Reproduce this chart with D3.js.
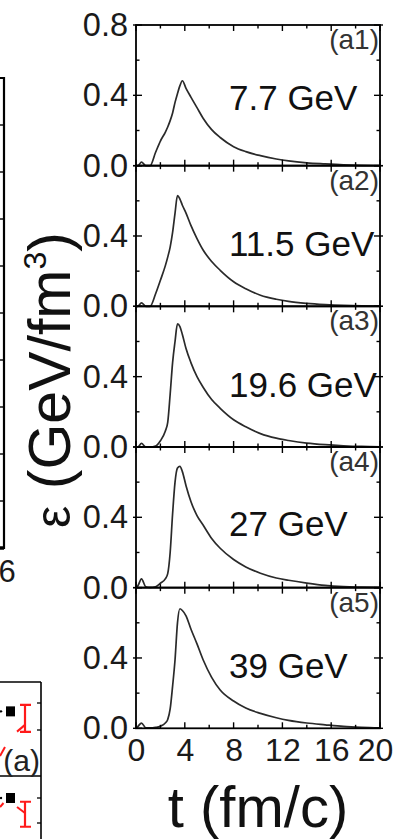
<!DOCTYPE html>
<html>
<head>
<meta charset="utf-8">
<script src="https://cdn.jsdelivr.net/npm/d3@7"></script>
<style>
  html, body { margin: 0; padding: 0; background: #fff; }
  svg { display: block; }
  text { font-family: "Liberation Sans", Arial, Helvetica, sans-serif; }
</style>
</head>
<body>
<svg id="chart" width="400" height="839"></svg>
<script>
// ---- data ----------------------------------------------------------------
const energies = ["7.7 GeV", "11.5 GeV", "19.6 GeV", "27 GeV", "39 GeV"];
const panelTags = ["(a1)", "(a2)", "(a3)", "(a4)", "(a5)"];

// time grid, fm/c
const times = [0, 0.15, 0.45, 0.8, 1.15, 1.6, 2.0, 2.4, 2.6, 2.8, 3.0, 3.2, 3.4, 3.6, 3.8,
               4.1, 4.5, 5.0, 5.5, 6.2, 6.9, 8.0, 9.0, 10.2, 11.5, 12.5, 14.0, 15.5, 17.0, 18.5, 20.0];

// energy density, GeV/fm^3
const eps7p7 = [0, 0, 0.02, 0, 0, 0.075, 0.14, 0.19, 0.22, 0.256, 0.30, 0.36, 0.41, 0.455, 0.483,
                0.44, 0.39, 0.33, 0.27, 0.205, 0.16, 0.108, 0.08, 0.057, 0.038, 0.027, 0.016, 0.01, 0.005, 0.002, 0.001];
const eps11p5 = [0, 0, 0.02, 0, 0, 0.07, 0.148, 0.23, 0.28, 0.337, 0.42, 0.53, 0.63, 0.61, 0.575,
                 0.53, 0.46, 0.385, 0.32, 0.255, 0.205, 0.14, 0.10, 0.063, 0.04, 0.028, 0.017, 0.01, 0.005, 0.002, 0.001];
const eps19p6 = [0, 0, 0.02, 0, 0, 0.005, 0.035, 0.09, 0.14, 0.30, 0.48, 0.60, 0.70, 0.685, 0.64,
                 0.56, 0.48, 0.40, 0.34, 0.27, 0.22, 0.155, 0.115, 0.076, 0.05, 0.037, 0.022, 0.013, 0.007, 0.003, 0.001];
const eps27 = [0, 0.01, 0.05, 0.005, 0.002, 0.005, 0.025, 0.05, 0.08, 0.20, 0.42, 0.60, 0.68, 0.69, 0.66,
               0.58, 0.49, 0.41, 0.356, 0.28, 0.224, 0.16, 0.118, 0.082, 0.055, 0.042, 0.026, 0.013, 0.006, 0.003, 0.001];
const eps39 = [0, 0.01, 0.03, 0.003, 0.002, 0.005, 0.012, 0.03, 0.05, 0.11, 0.24, 0.39, 0.60, 0.68, 0.67,
               0.64, 0.565, 0.48, 0.39, 0.29, 0.218, 0.155, 0.115, 0.085, 0.06, 0.045, 0.03, 0.02, 0.011, 0.006, 0.003];
const series = [eps7p7, eps11p5, eps19p6, eps27, eps39];

const xMajorTicks = [0, 4, 8, 12, 16, 20];
const xMinorTicks = [2, 6, 10, 14, 18];
const yMajorTicks = [0, 0.4, 0.8];
const yMinorTicks = [0.2, 0.6];

// cropped neighbouring panels on the left
const leftFrameTicks = [1, 2, 3, 4, 5, 6, 7, 8, 9];
const leftFrameEndLabel = "6";
const fragTicks = [1, 2];
const fragMarkers = [1.69, 2.0];          // black squares, one per sub-panel
const fragErrLow = [0.93, 0.85];
const fragErrHigh = [1.93, 1.85];
const fragModelA = [[4.0, 0.94], [6.0, 1.19]];
const fragModelB = [[4.0, 1.64], [6.0, 1.40]];

// ---- layout --------------------------------------------------------------
const svg = d3.select("#chart");
const plotLeft = 136, plotRight = 380, plotTop = 25, plotBottom = 728.3;
const nP = series.length;
const ph = (plotBottom - plotTop) / nP;
const labelDrop = [85, 90, 91, 89, 90];   // baseline of the energy label below each panel top

const x = d3.scaleLinear().domain([0, 20]).range([plotLeft, plotRight]);
const line = d3.line().x((d, i) => x(times[i])).y(d => d).curve(d3.curveMonotoneX);

series.forEach((vals, p) => {
  const y0 = plotTop + p * ph;
  const y = d3.scaleLinear().domain([0, 0.8]).range([y0 + ph, y0]);
  const g = svg.append("g");

  // curve
  g.append("path")
    .attr("d", line(vals.map(v => y(v))))
    .attr("fill", "none")
    .attr("stroke", "#2a2a2a")
    .attr("stroke-width", 1.7);

  // inward ticks on all four sides
  const tk = (x1, y1, x2, y2, w) => g.append("line")
    .attr("x1", x1).attr("y1", y1).attr("x2", x2).attr("y2", y2)
    .attr("stroke", "#000").attr("stroke-width", w || 1.4);
  xMajorTicks.forEach(t => { tk(x(t), y0, x(t), y0 + 6); tk(x(t), y0 + ph, x(t), y0 + ph - 6); });
  xMinorTicks.forEach(t => { tk(x(t), y0, x(t), y0 + 3.5); tk(x(t), y0 + ph, x(t), y0 + ph - 3.5); });
  yMajorTicks.forEach(v => { tk(plotLeft - 3, y(v), plotLeft + 6, y(v)); tk(plotRight + 3, y(v), plotRight - 6, y(v)); });
  yMinorTicks.forEach(v => { tk(plotLeft, y(v), plotLeft + 3.5, y(v)); tk(plotRight, y(v), plotRight - 3.5, y(v)); });

  // frame
  g.append("rect")
    .attr("x", plotLeft).attr("y", y0).attr("width", plotRight - plotLeft).attr("height", ph)
    .attr("fill", "none").attr("stroke", "#000").attr("stroke-width", 1.8);

  // y tick labels
  const shown = p === 0 ? yMajorTicks : yMajorTicks.filter(v => v < 0.8);
  const ax = d3.axisLeft(y).tickValues(shown).tickSize(0).tickPadding(8).tickFormat(d3.format(".1f"));
  const axg = svg.append("g").attr("transform", `translate(${plotLeft},0)`).call(ax);
  axg.select(".domain").remove();
  axg.selectAll("text").attr("font-size", 32.5).attr("fill", "#1a1a1a")
    .attr("font-family", "Liberation Sans, Arial, sans-serif");

  // energy label and panel tag
  g.append("text").attr("x", 229).attr("y", y0 + labelDrop[p])
    .attr("font-size", 35).attr("fill", "#111").text(energies[p]);
  g.append("text").attr("x", plotRight - 1).attr("y", y0 + 24).attr("text-anchor", "end")
    .attr("font-size", 28).attr("fill", "#333").text(panelTags[p]);
});

// x axis labels under the last panel
const xa = d3.axisBottom(x).tickValues(xMajorTicks).tickSize(0).tickPadding(10).tickFormat(d3.format("d"));
const xag = svg.append("g").attr("transform", `translate(0,${plotBottom})`).call(xa);
xag.select(".domain").remove();
xag.selectAll("text").attr("font-size", 32).attr("fill", "#1a1a1a")
  .attr("font-family", "Liberation Sans, Arial, sans-serif")
  .attr("dx", d => d === 20 ? -5 : 0);

// axis titles
svg.append("text").attr("x", (plotLeft + plotRight) / 2).attr("y", 827)
  .attr("text-anchor", "middle").attr("font-size", 58).attr("fill", "#111").text("t (fm/c)");

const yt = svg.append("text")
  .attr("transform", "translate(70,380) rotate(-90)")
  .attr("text-anchor", "middle").attr("font-size", 59).attr("fill", "#111");
yt.append("tspan").attr("font-size", 50).text("\u03B5");
yt.append("tspan").text(" (GeV/fm");
yt.append("tspan").attr("font-size", 32).attr("dy", -24).text("3");
yt.append("tspan").attr("dy", 24).text(")");

// ---- cropped neighbouring panels ------------------------------------------
const ly = d3.scaleLinear().domain([0, 10]).range([548, 78]);
svg.append("path")
  .attr("d", `M0,${ly(10)}H4V${ly(0)}H0`)
  .attr("fill", "none").attr("stroke", "#000").attr("stroke-width", 2.2);
svg.append("line").attr("x1", 0).attr("x2", 4).attr("y1", ly(0)).attr("y2", ly(0))
  .attr("stroke", "#000").attr("stroke-width", 3.5);
leftFrameTicks.forEach(v => svg.append("line")
  .attr("x1", 0).attr("x2", 4).attr("y1", ly(v)).attr("y2", ly(v))
  .attr("stroke", "#000").attr("stroke-width", 1.4));
svg.append("text").attr("x", 7).attr("y", 582).attr("text-anchor", "middle")
  .attr("font-size", 31).attr("fill", "#1a1a1a").text(leftFrameEndLabel);

const fx = d3.scaleLinear().domain([0, 10]).range([1, 41]);
const subTop = [682, 776];
const fy = [
  d3.scaleLinear().domain([1, 2]).range([730, 703]),
  d3.scaleLinear().domain([1, 2]).range([823, 798])
];
svg.append("line").attr("x1", fx(10)).attr("x2", fx(10)).attr("y1", subTop[0]).attr("y2", 839)
  .attr("stroke", "#000").attr("stroke-width", 1.6);
subTop.forEach(t => svg.append("line").attr("x1", 0).attr("x2", fx(10)).attr("y1", t).attr("y2", t)
  .attr("stroke", "#000").attr("stroke-width", 1.6));
fy.forEach((s, k) => {
  fragTicks.forEach(v => svg.append("line")
    .attr("x1", fx(10) - 4).attr("x2", fx(10)).attr("y1", s(v)).attr("y2", s(v))
    .attr("stroke", "#000").attr("stroke-width", 1.3));
  // error bar
  const ex = fx(6);
  svg.append("path")
    .attr("d", `M${ex - 5},${s(fragErrHigh[k])}H${ex + 6}M${ex},${s(fragErrHigh[k])}V${s(fragErrLow[k])}M${ex - 5},${s(fragErrLow[k])}H${ex + 6}`)
    .attr("fill", "none").attr("stroke", "#ff1a1a").attr("stroke-width", 2.2);
  // model segment
  const seg = k === 0 ? fragModelA : fragModelB;
  svg.append("path").attr("d", d3.line().x(d => fx(d[0])).y(d => s(d[1]))(seg))
    .attr("fill", "none").attr("stroke", "#ff1a1a").attr("stroke-width", 2);
  // marker
  svg.append("rect").attr("x", fx(2.375) - 4.5).attr("y", s(fragMarkers[k]) - 5)
    .attr("width", 9).attr("height", 10).attr("fill", "#000");
  svg.append("circle").attr("cx", fx(0)).attr("cy", s(fragMarkers[k])).attr("r", 1.2).attr("fill", "#000");
});
// red slashes at the left edge
svg.append("line").attr("x1", 0).attr("y1", 756).attr("x2", 5).attr("y2", 747)
  .attr("stroke", "#ff1a1a").attr("stroke-width", 2);
svg.append("line").attr("x1", 0).attr("y1", 807).attr("x2", 3.5).attr("y2", 803)
  .attr("stroke", "#ff1a1a").attr("stroke-width", 2);
svg.append("text").attr("x", 40).attr("y", 771).attr("text-anchor", "end")
  .attr("font-size", 30).attr("fill", "#222").text("(a)");
</script>
</body>
</html>
